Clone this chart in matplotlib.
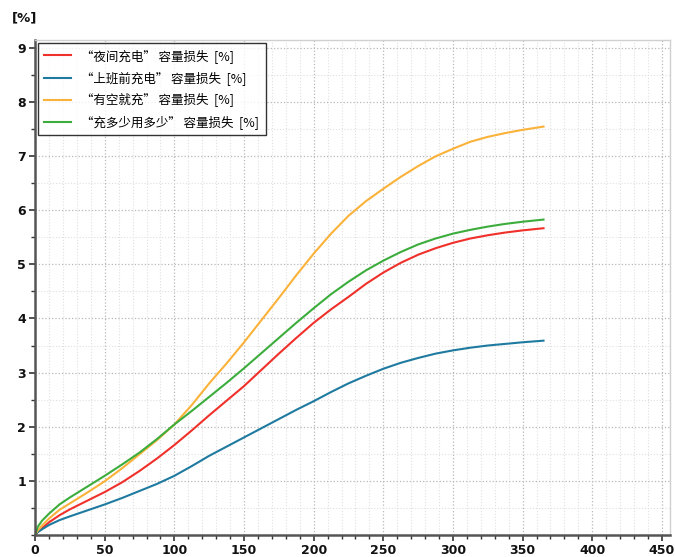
import matplotlib.pyplot as plt
from matplotlib.ticker import MultipleLocator

plt.rcParams['font.family'] = ['Noto Sans CJK SC', 'DejaVu Sans']

# 数据
days = [0, 2, 5, 10, 17.5, 25, 37.5, 50, 62.5, 75, 87.5, 100, 112.5, 125, 137.5, 150,
        162.5, 175, 187.5, 200, 212.5, 225, 237.5, 250, 262.5, 275, 287.5, 300,
        312.5, 325, 337.5, 350, 365]
night = [0, 0.05, 0.12, 0.23, 0.36, 0.47, 0.63, 0.79, 0.97, 1.18, 1.41, 1.66, 1.93, 2.21,
         2.48, 2.75, 3.05, 3.35, 3.64, 3.92, 4.17, 4.40, 4.64, 4.85, 5.03, 5.18, 5.30,
         5.40, 5.48, 5.54, 5.59, 5.63, 5.67]
before_work = [0, 0.05, 0.1, 0.18, 0.27, 0.34, 0.45, 0.56, 0.68, 0.81, 0.94, 1.09, 1.27,
               1.46, 1.63, 1.80, 1.97, 2.14, 2.31, 2.47, 2.64, 2.80, 2.94, 3.07, 3.18,
               3.27, 3.35, 3.41, 3.46, 3.50, 3.53, 3.56, 3.59]
any_time = [0, 0.08, 0.17, 0.30, 0.46, 0.58, 0.78, 0.99, 1.23, 1.49, 1.75, 2.04, 2.40,
            2.80, 3.17, 3.56, 3.97, 4.38, 4.80, 5.20, 5.57, 5.90, 6.17, 6.40, 6.62, 6.82,
            7.00, 7.14, 7.27, 7.36, 7.43, 7.49, 7.55]
as_needed = [0, 0.15, 0.26, 0.39, 0.56, 0.69, 0.89, 1.09, 1.30, 1.52, 1.77, 2.04, 2.29,
             2.55, 2.81, 3.08, 3.36, 3.64, 3.92, 4.19, 4.45, 4.68, 4.89, 5.07, 5.23, 5.37,
             5.48, 5.57, 5.64, 5.70, 5.75, 5.79, 5.83]

labels = ['“夜间充电” 容量损失  [%]', '“上班前充电” 容量损失  [%]',
          '“有空就充” 容量损失  [%]', '“充多少用多少” 容量损失  [%]']
colors = ['#f0302a', '#1f7aa0', '#fbb23a', '#3cad3c']

fig = plt.figure(figsize=(6.75, 5.57), dpi=100)
ax = fig.add_axes([0.052, 0.040, 0.941, 0.888])

for ys, lab, c in zip([night, before_work, any_time, as_needed], labels, colors):
    ax.plot(days, ys, color=c, lw=1.5, label=lab)

ax.set_xlim(0, 456)
ax.set_ylim(0, 9.15)
ax.xaxis.set_major_locator(MultipleLocator(50))
ax.xaxis.set_minor_locator(MultipleLocator(10))
ax.yaxis.set_minor_locator(MultipleLocator(0.5))
ax.set_yticks(range(1, 10))

ax.grid(True, which='major', ls=':', color='#b8b8b8', lw=0.9)
ax.grid(True, which='minor', ls=':', color='#e0e0e0', lw=0.8)

for s in ['left', 'bottom']:
    ax.spines[s].set_color('#555555')
    ax.spines[s].set_linewidth(1.8)
for s in ['top', 'right']:
    ax.spines[s].set_color('#d0d0d0')
    ax.spines[s].set_linewidth(1.0)

ax.tick_params(which='major', length=4.5, width=1.2, color='#333333', direction='out', pad=2)
ax.tick_params(which='minor', length=3, width=1.0, color='#333333', direction='out')
ax.tick_params(axis='both', labelsize=9, labelcolor='#111111')
for t in ax.get_xticklabels() + ax.get_yticklabels():
    t.set_fontweight('bold')
    t.set_family('DejaVu Sans')

fig.text(0.017, 0.962, '[%]', fontsize=9.5, fontweight='bold', family='DejaVu Sans', color='#111111')

leg = ax.legend(loc='upper left', fontsize=9, frameon=True, fancybox=False,
                edgecolor='black', borderaxespad=0.2, handlelength=2.2,
                borderpad=0.5, labelspacing=0.65)
leg.get_frame().set_linewidth(1.0)

fig.savefig('out.png', dpi=100)
